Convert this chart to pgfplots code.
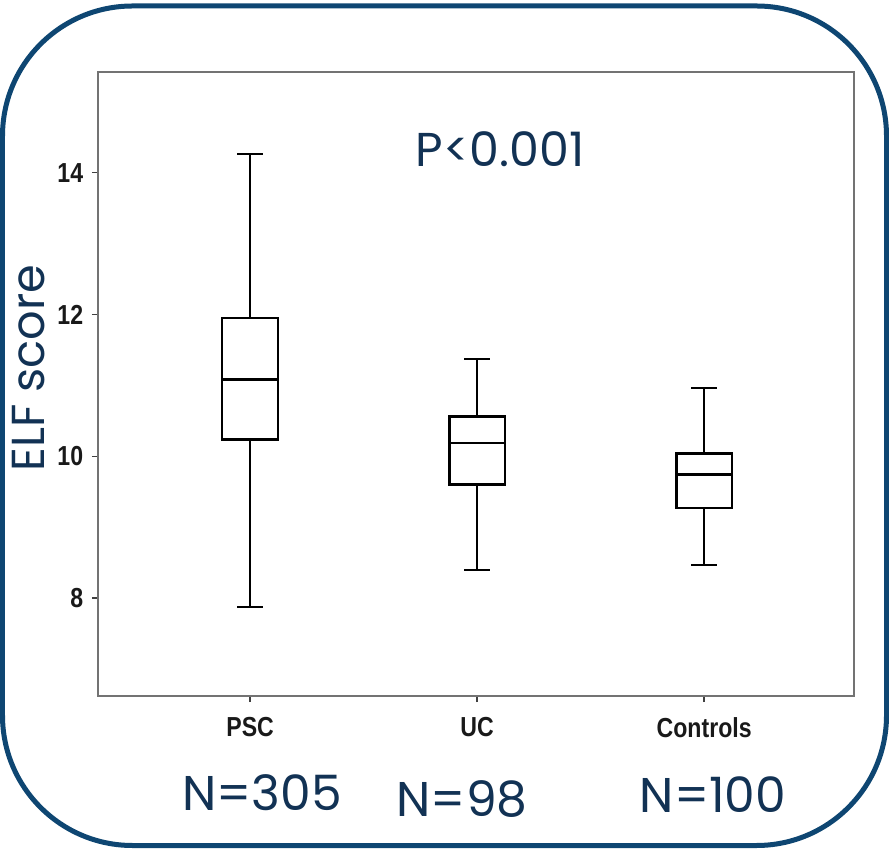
\documentclass[border=0pt]{standalone}
\usepackage{fontspec}
\usepackage{pgfplots}
\pgfplotsset{compat=1.18}
\setmainfont{Liberation Sans}
\newfontfamily\annot{Poppins}
\newfontfamily\tickfont[FakeStretch=0.84]{Liberation Sans Bold}
\definecolor{navy}{RGB}{18,50,84}
\definecolor{frame}{RGB}{14,70,114}
\tikzset{boxline/.style={black, line width=1.05pt, line join=miter},
         whisk/.style={black, line width=0.7pt}}

\begin{document}
\begin{tikzpicture}
% canvas and rounded frame (1px = 0.4pt, origin at axis corner)
\useasboundingbox (-39.2pt,-61.2pt) rectangle (316.4pt,278.4pt);
\draw[frame, line width=2pt, rounded corners=52pt] (-38.2pt,-59.8pt) rectangle (315.4pt,276pt);

\begin{axis}[
  at={(0pt,0pt)}, anchor=south west,
  scale only axis, width=302.4pt, height=249.6pt,
  xmin=0.33, xmax=3.66, ymin=6.62, ymax=15.42,
  xtick={1,2,3}, xticklabels={PSC,UC,Controls},
  ytick={8,10,12,14},
  tick align=outside, major tick length=2.4pt,
  xtick pos=bottom, ytick pos=left,
  tick style={black!75, line width=0.6pt},
  axis line style={black!55, line width=0.9pt},
  ticklabel style={font=\tickfont\fontsize{11}{13}\selectfont, text=black!90},
  /pgf/number format/assume math mode=true,
  xticklabel style={yshift=-2.5pt},
]
% PSC: whiskers 7.88 / 14.26, quartiles 10.24 / 11.95, median 11.08
\addplot[whisk] coordinates {(1,11.95) (1,14.26)};
\addplot[whisk] coordinates {(1,7.88) (1,10.24)};
\addplot[whisk] coordinates {(0.943,14.26) (1.057,14.26)};
\addplot[whisk] coordinates {(0.943,7.88) (1.057,7.88)};
\addplot[boxline, fill=white] coordinates {(0.877,10.24) (1.123,10.24) (1.123,11.95) (0.877,11.95)} --cycle;
\addplot[boxline] coordinates {(0.877,11.08) (1.123,11.08)};
% UC: whiskers 8.40 / 11.37, quartiles 9.60 / 10.56, median 10.19
\addplot[whisk] coordinates {(2,10.56) (2,11.37)};
\addplot[whisk] coordinates {(2,8.40) (2,9.60)};
\addplot[whisk] coordinates {(1.943,11.37) (2.057,11.37)};
\addplot[whisk] coordinates {(1.943,8.40) (2.057,8.40)};
\addplot[boxline, fill=white] coordinates {(1.877,9.60) (2.123,9.60) (2.123,10.56) (1.877,10.56)} --cycle;
\addplot[boxline] coordinates {(1.877,10.19) (2.123,10.19)};
% Controls: whiskers 8.47 / 10.96, quartiles 9.27 / 10.04, median 9.74
\addplot[whisk] coordinates {(3,10.04) (3,10.96)};
\addplot[whisk] coordinates {(3,8.47) (3,9.27)};
\addplot[whisk] coordinates {(2.943,10.96) (3.057,10.96)};
\addplot[whisk] coordinates {(2.943,8.47) (3.057,8.47)};
\addplot[boxline, fill=white] coordinates {(2.877,9.27) (3.123,9.27) (3.123,10.04) (2.877,10.04)} --cycle;
\addplot[boxline] coordinates {(2.877,9.74) (3.123,9.74)};
\end{axis}

% annotations
\node[anchor=base, text=navy, font=\annot\fontsize{19}{22}\selectfont] at (160.8pt,211.6pt) {P<0.001};
\node[anchor=base, rotate=90, text=navy, font=\annot\fontsize{18.5}{22}\selectfont] at (-21.4pt,131.2pt) {ELF score};
\node[anchor=base, text=navy, font=\annot\fontsize{19.5}{24}\selectfont] at (65.6pt,-45.6pt) {N=305};
\node[anchor=base, text=navy, font=\annot\fontsize{19.5}{24}\selectfont] at (145.6pt,-48pt) {N=98};
\node[anchor=base, text=navy, font=\annot\fontsize{19.5}{24}\selectfont] at (246pt,-46.4pt) {N=100};
\end{tikzpicture}
\end{document}
